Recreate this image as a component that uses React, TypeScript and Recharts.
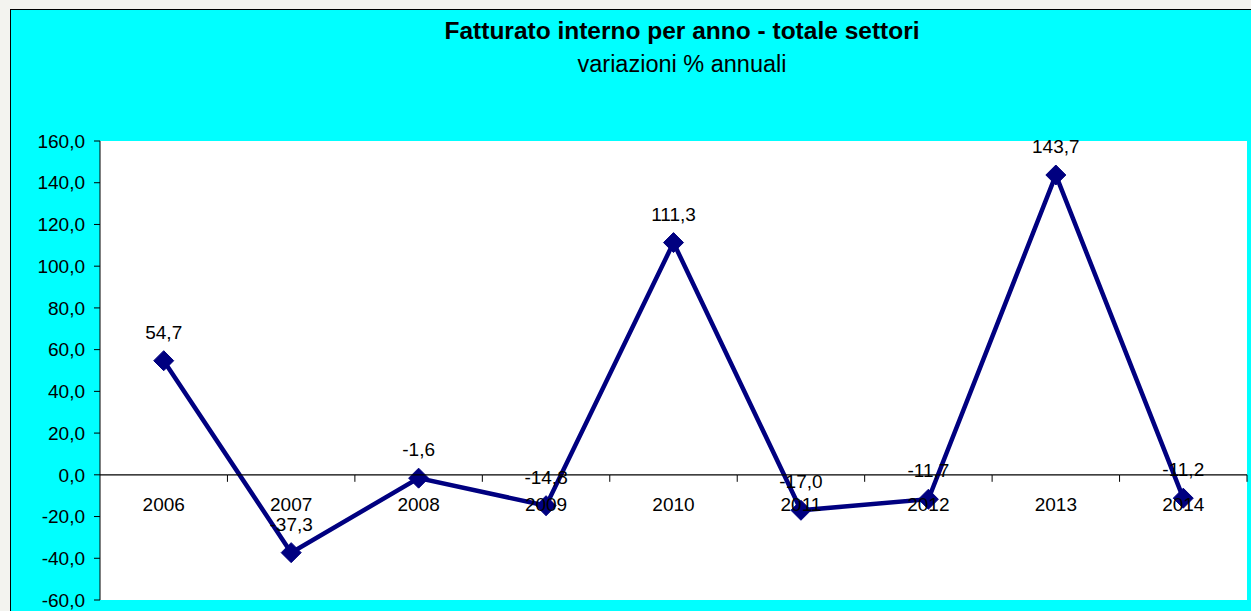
import React from 'react';
import { LineChart, Line, XAxis, YAxis, CartesianGrid, LabelList } from 'recharts';

const years = ['2006', '2007', '2008', '2009', '2010', '2011', '2012', '2013', '2014'];
const variations = [54.7, -37.3, -1.6, -14.8, 111.3, -17.0, -11.7, 143.7, -11.2];
const yTicks = [-60, -40, -20, 0, 20, 40, 60, 80, 100, 120, 140, 160];
const titleText = 'Fatturato interno per anno - totale settori';
const subtitleText = 'variazioni % annuali';

const FONT = '"Liberation Sans", Arial, Helvetica, sans-serif';
const W = 1251;
const H = 611;
const XH = 1;
const M = { top: 141, right: 4, bottom: 11 - XH, left: 0 };
const YW = 100;
const Y_MIN = -60;
const Y_MAX = 160;
const plotH = H - M.top - M.bottom - XH;
const plotW = W - M.left - M.right - YW;
const zeroY = M.top + (plotH * (Y_MAX - 0)) / (Y_MAX - Y_MIN);
const bandW = plotW / years.length;

const data = years.map((y, i) => ({ year: y, v: variations[i] }));

const fmt = (v: number) => Number(v).toFixed(1).replace('.', ',');

const renderXTick = (props: any) => {
  const { x, payload } = props;
  return (
    <g>
      <line x1={x - bandW / 2} x2={x + bandW / 2} y1={zeroY} y2={zeroY} stroke="#000" strokeWidth={1.3} />
      <line x1={x + bandW / 2} x2={x + bandW / 2} y1={zeroY} y2={zeroY + 7} stroke="#000" strokeWidth={1} />
      <text x={x} y={zeroY + 36} textAnchor="middle" fontSize={19} fill="#000" fontFamily={FONT}>
        {payload.value}
      </text>
    </g>
  );
};

const Diamond = (props: any) => {
  const { cx, cy } = props;
  if (cx == null || cy == null) return null;
  const r = 10;
  return (
    <polygon
      points={`${cx},${cy - r} ${cx + r},${cy} ${cx},${cy + r} ${cx - r},${cy}`}
      fill="#000080"
      stroke="#000080"
      strokeWidth={1}
    />
  );
};

export default function App() {
  return (
    <div style={{ position: 'absolute', left: 0, top: 0, width: W, height: H, background: '#f3f3ef', overflow: 'hidden' }}>
      <div
        style={{
          position: 'absolute',
          left: 10,
          top: 9,
          width: W - 10,
          height: H - 9,
          background: '#00ffff',
          borderTop: '1px solid #000',
          borderLeft: '1px solid #000',
          boxSizing: 'border-box',
        }}
      />
      <div style={{ position: 'absolute', left: 0, top: 0 }}>
        <LineChart width={W} height={H} data={data} margin={M}>
          <CartesianGrid fill="#ffffff" horizontal={false} vertical={false} />
          <XAxis
            dataKey="year"
            type="category"
            scale="band"
            height={XH}
            interval={0}
            axisLine={false}
            tickLine={false}
            tick={renderXTick}
          />
          <YAxis
            type="number"
            domain={[Y_MIN, Y_MAX]}
            ticks={yTicks}
            interval={0}
            allowDataOverflow
            width={YW}
            tickFormatter={fmt}
            tick={{ fill: '#000', fontSize: 19, fontFamily: FONT }}
            axisLine={{ stroke: '#000', strokeWidth: 1 }}
            tickLine={{ stroke: '#000', strokeWidth: 1 }}
            tickSize={6}
            tickMargin={9}
          />
          <Line
            type="linear"
            dataKey="v"
            stroke="#000080"
            strokeWidth={4.5}
            dot={<Diamond />}
            activeDot={false}
            isAnimationActive={false}
          >
            <LabelList
              dataKey="v"
              position="top"
              offset={22}
              formatter={(v: any) => fmt(v)}
              style={{ fill: '#000', fontSize: 19, fontFamily: FONT }}
            />
          </Line>
        </LineChart>
      </div>
      <svg width={W} height={H} style={{ position: 'absolute', left: 0, top: 0, pointerEvents: 'none' }}>
        <text x={682} y={39} textAnchor="middle" fontSize={24.5} fontWeight="bold" fontFamily={FONT} fill="#000">
          {titleText}
        </text>
        <text x={682} y={72} textAnchor="middle" fontSize={23.5} fontFamily={FONT} fill="#000">
          {subtitleText}
        </text>
      </svg>
    </div>
  );
}
